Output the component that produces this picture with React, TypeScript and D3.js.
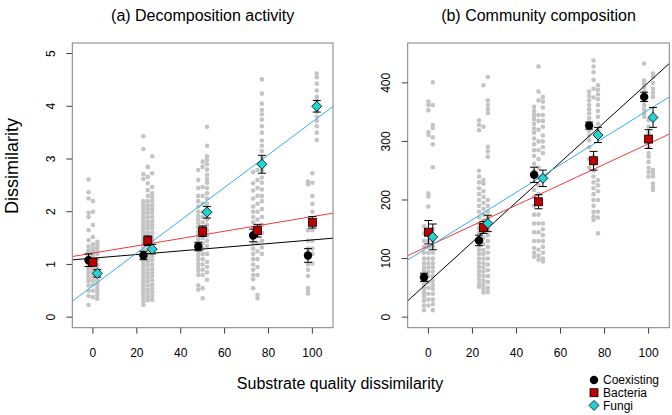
import React from 'react';
import * as d3 from 'd3';

// ---------- data ----------
const groups = [0, 25, 50, 75, 100];
const seriesNames = ['Coexisting', 'Bacteria', 'Fungi'];
const seriesOffset = [-2, 0, 2];
const xTicks = [0, 20, 40, 60, 80, 100];
const decompYTicks = [0, 1, 2, 3, 4, 5];
const commYTicks = [0, 100, 200, 300, 400];

// (a) Decomposition activity - raw dissimilarities per group
const decompCoexRaw = [
  [2.61, 2.37, 2.25, 1.98, 1.9, 1.65, 1.46, 1.34, 1.27, 1.22, 1.18, 1.14, 1.1, 1.06, 1.02, 0.98, 0.94, 0.9, 0.85, 0.8, 0.74, 0.68, 0.6, 0.5, 0.4, 0.23],
  [3.43, 3.19, 2.71, 2.62, 2.2, 2.15, 2.1, 2.05, 2.0, 1.95, 1.9, 1.85, 1.8, 1.75, 1.7, 1.65, 1.6, 1.55, 1.5, 1.45, 1.4, 1.35, 1.3, 1.25, 1.2, 1.15, 1.1, 1.05, 1.0, 0.95, 0.9, 0.85, 0.8, 0.75, 0.7, 0.65, 0.6, 0.55, 0.5, 0.45, 0.4, 0.35, 0.3, 0.23],
  [2.79, 2.6, 2.45, 2.3, 2.2, 2.1, 2.0, 1.92, 1.85, 1.78, 1.7, 1.62, 1.55, 1.48, 1.4, 1.32, 1.25, 1.18, 1.1, 1.02, 0.95, 0.88, 0.8, 0.6, 0.52],
  [2.75, 2.54, 2.4, 2.25, 2.1, 2.0, 1.9, 1.8, 1.7, 1.6, 1.5, 1.4, 1.3, 1.2, 1.1, 1.0, 0.9, 0.8, 0.72, 0.55],
  [2.57, 2.52, 1.65, 1.45, 1.3, 1.15, 1.0, 0.9, 0.78, 0.55, 0.5, 0.45],
];
const decompBactRaw = [
  [2.2, 2.0, 1.75, 1.52, 1.38, 1.3, 1.25, 1.2, 1.15, 1.1, 1.05, 1.0, 0.95, 0.9, 0.85, 0.78, 0.7, 0.62, 0.5, 0.38],
  [2.85, 2.66, 2.54, 2.41, 2.3, 2.2, 2.12, 2.05, 1.98, 1.9, 1.82, 1.75, 1.68, 1.6, 1.55, 1.5, 1.42, 1.35, 1.28, 1.2, 1.12, 1.05, 0.98, 0.9, 0.82, 0.75, 0.68, 0.6, 0.52, 0.45, 0.38, 0.32],
  [2.95, 2.85, 2.47, 2.3, 2.15, 2.0, 1.9, 1.8, 1.7, 1.6, 1.5, 1.4, 1.3, 1.2, 1.1, 1.0, 0.9, 0.8, 0.55, 0.36],
  [2.79, 2.6, 2.45, 2.3, 2.15, 2.0, 1.85, 1.7, 1.55, 1.4, 1.25, 1.1, 0.95, 0.8, 0.42, 0.36],
  [2.73, 2.55, 2.3, 2.15, 2.0, 1.8, 1.65, 1.45, 1.3, 1.2, 1.02],
];
const decompFungiRaw = [
  [1.43, 1.38, 1.32, 1.26, 1.2, 1.1, 1.0, 0.92, 0.86, 0.8, 0.74, 0.68, 0.62, 0.55, 0.48, 0.42, 0.35],
  [3.05, 2.73, 2.47, 2.35, 2.28, 2.2, 2.12, 2.05, 1.98, 1.9, 1.82, 1.75, 1.68, 1.6, 1.52, 1.45, 1.38, 1.3, 1.22, 1.15, 1.08, 1.0, 0.92, 0.85, 0.78, 0.7, 0.62, 0.55, 0.48, 0.4, 0.33],
  [3.61, 3.25, 3.05, 2.98, 2.9, 2.8, 2.7, 2.62, 2.55, 2.45, 2.35, 2.25, 2.15, 2.05, 1.95, 1.85, 1.75, 1.65, 1.55, 1.45, 1.35, 1.2, 1.05, 0.95, 0.85, 0.71],
  [4.51, 4.24, 4.05, 3.93, 3.85, 3.75, 3.62, 3.5, 3.35, 3.25, 3.15, 3.02, 2.9, 2.78, 2.65, 2.55, 2.42, 2.3, 2.2, 2.05, 1.9, 1.75, 1.6, 1.45, 1.32, 1.2],
  [4.62, 4.55, 4.43, 4.3, 4.18, 4.12, 4.05, 3.95, 3.9, 3.8, 3.72, 3.62, 3.5, 3.36],
];
const decompMeans = [
  [1.08, 1.17, 1.34, 1.55, 1.17],
  [1.04, 1.45, 1.63, 1.64, 1.8],
  [0.83, 1.29, 1.99, 2.9, 4.0],
];
const decompSE = [
  [0.12, 0.08, 0.08, 0.12, 0.13],
  [0.06, 0.09, 0.1, 0.12, 0.11],
  [0.07, 0.09, 0.11, 0.17, 0.11],
];
const decompIntercept = [1.119, 1.215, 0.595];
const decompSlope = [0.00346, 0.00692, 0.0311];

// (b) Community composition
const commCoexRaw = [
  [155, 143, 130, 120, 110, 100, 92, 85, 80, 77, 74, 71, 68, 65, 62, 58, 55, 50, 45, 40, 35, 28, 20, 12],
  [336, 328, 319, 250, 240, 230, 220, 210, 200, 190, 180, 170, 160, 152, 145, 138, 130, 122, 115, 108, 100, 93, 86, 79, 72, 65, 58, 52],
  [359, 352, 345, 338, 330, 322, 315, 305, 295, 285, 275, 262, 250, 245, 217, 205, 190, 175, 160, 145, 130, 118, 110, 103],
  [385, 378, 370, 362, 355, 348, 340, 332, 325, 318, 310, 302, 290, 270, 255],
  [433, 404, 398, 392, 385, 378, 370, 362, 355, 348, 342],
];
const commBactRaw = [
  [368, 362, 353, 316, 311, 211, 206, 189, 140, 130, 120, 110, 100, 92, 85, 78, 70, 60, 50, 40, 30, 20],
  [396, 325, 234, 228, 215, 205, 195, 185, 175, 165, 155, 145, 135, 125, 115, 108, 100, 92, 85, 78, 70, 62, 55, 48, 42],
  [428, 385, 370, 345, 335, 320, 300, 285, 270, 255, 240, 225, 210, 195, 175, 160, 145, 130, 115, 105, 98],
  [438, 428, 418, 405, 390, 375, 274, 262, 250, 240, 230, 220, 210, 200, 190, 180, 172, 166],
  [336, 325, 315, 300, 290, 280, 274, 265, 255, 248, 240],
];
const commFungiRaw = [
  [401, 362, 328, 323, 307, 295, 256, 150, 140, 130, 120, 110, 100, 92, 85, 78, 70, 62, 55, 48, 40, 30, 22, 12],
  [410, 370, 362, 355, 348, 291, 283, 274, 200, 190, 180, 170, 160, 150, 140, 130, 120, 110, 100, 90, 80, 70, 60, 50, 43],
  [376, 368, 358, 345, 335, 325, 310, 300, 290, 280, 160, 150, 140, 130, 120, 110, 100, 95],
  [396, 388, 380, 372, 362, 352, 342, 330, 319, 234, 225, 215, 200, 180, 170, 143],
  [416, 410, 400, 390, 383, 376, 251, 245, 240, 228, 222, 217],
];
const commMeans = [
  [68, 131, 243, 327, 376],
  [145, 153, 197, 267, 304],
  [137, 160, 237, 311, 341],
];
const commSE = [
  [7, 9, 13, 6, 8],
  [20, 10, 12, 16, 16],
  [22, 14, 14, 13, 17],
];
const commIntercept = [60, 121.4, 119.7];
const commSlope = [3.41, 1.747, 2.343];

// ---------- styling ----------
const FONT = 'Liberation Sans, Arial, Helvetica, sans-serif';
const lineColors = ['#000000', '#f03c3c', '#33b0e6'];
const markerFill = ['#000000', '#c00000', '#22d3d3'];
const pointGray = '#c4c4c4';

type PanelProps = {
  left: number;
  right: number;
  title: string;
  yDomain: [number, number];
  yTicks: number[];
  raw: number[][][];
  means: number[][];
  se: number[][];
  intercept: number[];
  slope: number[];
  id: string;
};

const TOP = 43;
const BOTTOM = 327.7;

function Marker({ s, cx, cy }: { s: number; cx: number; cy: number }) {
  if (s === 0) return <circle cx={cx} cy={cy} r={4.2} fill={markerFill[0]} />;
  if (s === 1)
    return <rect x={cx - 4} y={cy - 4} width={8} height={8} fill={markerFill[1]} stroke="#000" strokeWidth={0.8} />;
  const r = 5;
  return (
    <path
      d={`M${cx},${cy - r}L${cx + r},${cy}L${cx},${cy + r}L${cx - r},${cy}Z`}
      fill={markerFill[2]}
      stroke="#000"
      strokeWidth={0.8}
    />
  );
}

function Panel(p: PanelProps) {
  const x = d3.scaleLinear().domain([-9.4, 109.4]).range([p.left, p.right]);
  const y = d3.scaleLinear().domain(p.yDomain).range([BOTTOM, TOP]);
  const cx = (p.left + p.right) / 2;
  return (
    <g>
      <defs>
        <clipPath id={`clip-${p.id}`}>
          <rect x={p.left} y={TOP} width={p.right - p.left} height={BOTTOM - TOP} />
        </clipPath>
      </defs>
      <text x={cx} y={21} textAnchor="middle" fontFamily={FONT} fontSize={16}>
        {p.title}
      </text>
      {/* raw points */}
      <g fill={pointGray}>
        {p.raw.map((ser, s) =>
          ser.map((vals, gi) =>
            vals.map((v, k) => (
              <circle key={`${s}-${gi}-${k}`} cx={x(groups[gi] + seriesOffset[s])} cy={y(v)} r={2.3} />
            ))
          )
        )}
      </g>
      {/* regression lines */}
      <g clipPath={`url(#clip-${p.id})`}>
        {p.intercept.map((a, s) => {
          const x0 = x.domain()[0];
          const x1 = x.domain()[1];
          return (
            <line
              key={s}
              x1={x(x0)}
              y1={y(a + p.slope[s] * x0)}
              x2={x(x1)}
              y2={y(a + p.slope[s] * x1)}
              stroke={lineColors[s]}
              strokeWidth={1}
            />
          );
        })}
      </g>
      {/* error bars + means */}
      {p.means.map((ms, s) =>
        ms.map((m, gi) => {
          const px = x(groups[gi] + seriesOffset[s]);
          const lo = y(m - p.se[s][gi]);
          const hi = y(m + p.se[s][gi]);
          return (
            <g key={`m-${s}-${gi}`}>
              <line x1={px} x2={px} y1={lo} y2={hi} stroke="#000" strokeWidth={1} />
              <line x1={px - 4} x2={px + 4} y1={lo} y2={lo} stroke="#000" strokeWidth={1} />
              <line x1={px - 4} x2={px + 4} y1={hi} y2={hi} stroke="#000" strokeWidth={1} />
              <Marker s={s} cx={px} cy={y(m)} />
            </g>
          );
        })
      )}
      {/* box */}
      <rect x={p.left} y={TOP} width={p.right - p.left} height={BOTTOM - TOP} fill="none" stroke="#808080" strokeWidth={1} />
      {/* x axis */}
      {xTicks.map((t) => (
        <g key={`xt-${t}`}>
          <line x1={x(t)} x2={x(t)} y1={BOTTOM} y2={BOTTOM + 6} stroke="#404040" />
          <text x={x(t)} y={356.5} textAnchor="middle" fontFamily={FONT} fontSize={12}>
            {t}
          </text>
        </g>
      ))}
      {/* y axis */}
      {p.yTicks.map((t) => (
        <g key={`yt-${t}`}>
          <line x1={p.left - 6} x2={p.left} y1={y(t)} y2={y(t)} stroke="#404040" />
          <text
            transform={`translate(${p.left - 17.5},${y(t)}) rotate(-90)`}
            textAnchor="middle"
            fontFamily={FONT}
            fontSize={12}
          >
            {t}
          </text>
        </g>
      ))}
    </g>
  );
}

export default function App() {
  return (
    <svg
      width={672}
      height={415}
      style={{ position: 'absolute', left: 0, top: 0, background: '#fff' }}
    >
      <rect width={672} height={415} fill="#fff" />
      <Panel
        id="a"
        left={72.3}
        right={333}
        title="(a) Decomposition activity"
        yDomain={[-0.2, 5.2]}
        yTicks={decompYTicks}
        raw={[decompCoexRaw, decompBactRaw, decompFungiRaw]}
        means={decompMeans}
        se={decompSE}
        intercept={decompIntercept}
        slope={decompSlope}
      />
      <Panel
        id="b"
        left={407.7}
        right={669.3}
        title="(b) Community composition"
        yDomain={[-18, 468]}
        yTicks={commYTicks}
        raw={[commCoexRaw, commBactRaw, commFungiRaw]}
        means={commMeans}
        se={commSE}
        intercept={commIntercept}
        slope={commSlope}
      />
      <text
        transform="translate(18,166) rotate(-90)"
        textAnchor="middle"
        fontFamily={FONT}
        fontSize={18}
      >
        Dissimilarity
      </text>
      <text x={340} y={389} textAnchor="middle" fontFamily={FONT} fontSize={16}>
        Substrate quality dissimilarity
      </text>
      {/* legend */}
      {seriesNames.map((n, i) => {
        const ly = 380 + i * 12.7;
        return (
          <g key={n}>
            <Marker s={i} cx={594} cy={ly} />
            <text x={603} y={ly + 4.3} fontFamily={FONT} fontSize={12}>
              {n}
            </text>
          </g>
        );
      })}
    </svg>
  );
}
